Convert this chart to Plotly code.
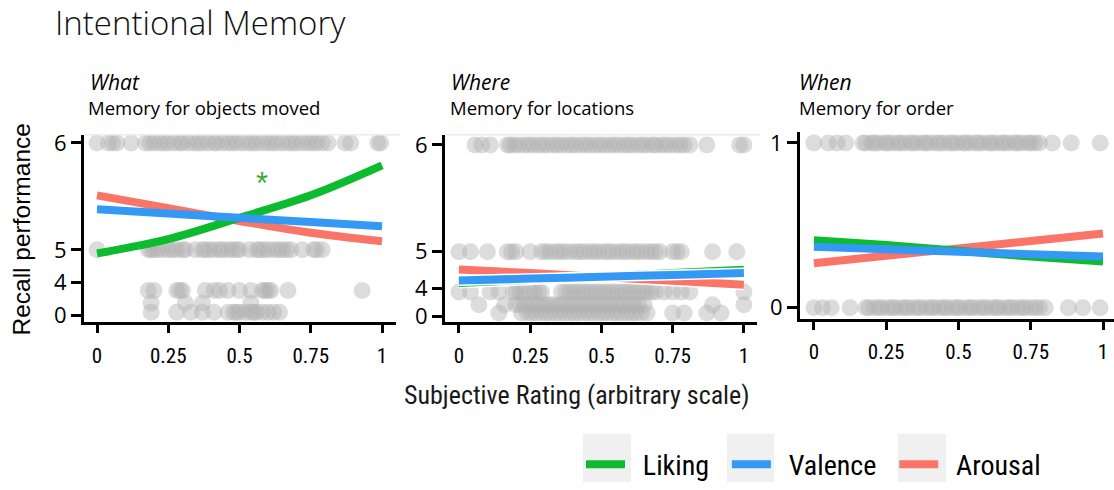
import numpy as np
import plotly.graph_objects as go

W, H = 1114, 490

# ---------------- values ----------------
RATING = [0, 0.25, 0.5, 0.75, 1]

# fitted recall curves (recall units) sampled at RATING
WHAT_LIKING = [4.89, 5.10, 5.30, 5.51, 5.79]
WHAT_VALENCE = [5.38, 5.34, 5.30, 5.26, 5.22]
WHAT_AROUSAL = [5.51, 5.39, 5.27, 5.16, 5.08]

WHERE_LIKING = [4.15, 4.24, 4.33, 4.42, 4.51]
WHERE_VALENCE = [4.22, 4.27, 4.32, 4.37, 4.42]
WHERE_AROUSAL = [4.52, 4.42, 4.31, 4.21, 4.10]

WHEN_LIKING = [0.41, 0.38, 0.345, 0.31, 0.28]
WHEN_VALENCE = [0.37, 0.355, 0.34, 0.325, 0.31]
WHEN_AROUSAL = [0.27, 0.315, 0.36, 0.405, 0.45]

# individual trials: subjective rating of each trial, grouped by recall level
WHAT_LEVELS = [6, 5, 3, 1.5, 0.4]
WHAT_AT_6 = [0.0, 0.04, 0.055, 0.07, 0.12, 0.17, 0.185, 0.2, 0.22, 0.235, 0.25, 0.27,
             0.29, 0.3, 0.32, 0.34, 0.355, 0.37, 0.39, 0.41, 0.42, 0.44, 0.46, 0.475,
             0.49, 0.51, 0.53, 0.545, 0.56, 0.58, 0.6, 0.615, 0.63, 0.65, 0.67, 0.685,
             0.7, 0.72, 0.74, 0.755, 0.77, 0.79, 0.81, 0.87, 0.89, 0.985, 0.995]
WHAT_AT_5 = [0.0, 0.18, 0.19, 0.2, 0.215, 0.23, 0.25, 0.265, 0.28, 0.3, 0.31, 0.345,
             0.37, 0.38, 0.395, 0.41, 0.43, 0.44, 0.46, 0.475, 0.49, 0.5, 0.535, 0.56,
             0.57, 0.585, 0.6, 0.62, 0.635, 0.65, 0.665, 0.68, 0.72, 0.76, 0.77, 0.79]
WHAT_AT_3 = [0.18, 0.2, 0.28, 0.29, 0.3, 0.38, 0.41, 0.43, 0.46, 0.5, 0.54, 0.58,
             0.59, 0.6, 0.61, 0.67, 0.93]
WHAT_AT_1_5 = [0.19, 0.31, 0.37, 0.54]
WHAT_AT_0_4 = [0.19, 0.28, 0.33, 0.37, 0.41, 0.46, 0.48, 0.49, 0.5, 0.52, 0.54, 0.55,
               0.56, 0.58, 0.6, 0.62, 0.64]

WHERE_LEVELS = [6, 5, 3.5, 1.7, 0.5]
WHERE_AT_6 = [0.056, 0.08, 0.11, 0.17, 0.18, 0.195, 0.21, 0.23, 0.245, 0.26, 0.28, 0.295,
              0.31, 0.33, 0.345, 0.36, 0.38, 0.395, 0.41, 0.43, 0.445, 0.46, 0.48, 0.495,
              0.51, 0.53, 0.545, 0.56, 0.58, 0.595, 0.61, 0.63, 0.645, 0.66, 0.68, 0.69,
              0.71, 0.725, 0.74, 0.76, 0.775, 0.79, 0.81, 0.87, 0.985, 1.0]
WHERE_AT_5 = [0.0, 0.04, 0.1, 0.17, 0.185, 0.2, 0.25, 0.29, 0.305, 0.32, 0.34, 0.355,
              0.37, 0.39, 0.41, 0.425, 0.44, 0.46, 0.475, 0.49, 0.51, 0.525, 0.54, 0.56,
              0.575, 0.59, 0.61, 0.625, 0.64, 0.66, 0.675, 0.69, 0.705, 0.75, 0.765,
              0.78, 0.89, 0.975]
WHERE_AT_3_5 = [0.0, 0.04, 0.11, 0.14, 0.19, 0.2, 0.215, 0.23, 0.25, 0.265, 0.28, 0.29,
                0.36, 0.375, 0.39, 0.405, 0.42, 0.435, 0.45, 0.465, 0.48, 0.495, 0.51,
                0.525, 0.54, 0.555, 0.57, 0.585, 0.6, 0.615, 0.63, 0.645, 0.66, 0.675,
                0.69, 0.72, 0.75, 0.78, 0.81, 1.0]
WHERE_AT_1_7 = [0.07, 0.16, 0.2, 0.215, 0.23, 0.25, 0.265, 0.28, 0.3, 0.315, 0.33, 0.35,
                0.365, 0.38, 0.4, 0.415, 0.43, 0.45, 0.465, 0.48, 0.5, 0.515, 0.53, 0.55,
                0.565, 0.58, 0.6, 0.615, 0.63, 0.65, 0.89, 1.0]
WHERE_AT_0_5 = [0.14, 0.22, 0.24, 0.255, 0.27, 0.29, 0.305, 0.32, 0.34, 0.355, 0.37,
                0.39, 0.405, 0.42, 0.44, 0.455, 0.47, 0.49, 0.505, 0.52, 0.54, 0.555,
                0.57, 0.59, 0.605, 0.62, 0.64, 0.66, 0.75, 0.79, 0.87, 0.92]

WHEN_LEVELS = [1, 0]
WHEN_AT_1 = [0.0, 0.05, 0.08, 0.11, 0.17, 0.18, 0.2, 0.21, 0.225, 0.245, 0.255, 0.27,
             0.29, 0.3, 0.315, 0.335, 0.345, 0.36, 0.38, 0.39, 0.405, 0.425, 0.435, 0.45,
             0.47, 0.48, 0.495, 0.515, 0.525, 0.54, 0.56, 0.57, 0.585, 0.605, 0.615,
             0.63, 0.65, 0.66, 0.675, 0.695, 0.705, 0.72, 0.74, 0.75, 0.765, 0.78,
             0.825, 0.89, 0.99]
WHEN_AT_0 = [0.0, 0.03, 0.06, 0.125, 0.18, 0.19, 0.21, 0.225, 0.235, 0.255, 0.27, 0.28,
             0.3, 0.315, 0.325, 0.345, 0.36, 0.37, 0.39, 0.405, 0.415, 0.435, 0.45, 0.46,
             0.48, 0.495, 0.505, 0.525, 0.54, 0.55, 0.57, 0.585, 0.595, 0.615, 0.63,
             0.64, 0.66, 0.675, 0.685, 0.705, 0.72, 0.73, 0.75, 0.765, 0.78, 0.8,
             0.88, 0.93, 0.99]

X_TICKS = [0, 0.25, 0.5, 0.75, 1]
X_TICK_TEXT = ["0", "0.25", "0.5", "0.75", "1"]

# recall axis is drawn on a stretched scale: tick value -> axis position
WHAT_TICKS = [0, 4, 5, 6]
WHAT_TICK_POS = [0, 34.5, 68, 178.5]
WHERE_TICKS = [0, 4, 5, 6]
WHERE_TICK_POS = [0, 29, 67, 177.5]
WHEN_TICKS = [0, 1]
WHEN_TICK_POS = [0, 170.3]

SERIES_NAMES = ["Liking", "Valence", "Arousal"]
COLORS = {"Liking": "#0cbc2e", "Valence": "#3399f5", "Arousal": "#fa7468"}

SANS = "Liberation Sans, Arial, sans-serif"
OPEN = "Open Sans, Liberation Sans, sans-serif"
NARROW = "Liberation Sans Narrow, Roboto Condensed, Liberation Sans, sans-serif"
NBSP = "\u00a0"

# legend entries: label padding keeps the key text clear of the grey key box
LEGEND_LABELS = {
    "Liking": NBSP * 2 + "Liking" + NBSP * 2,
    "Valence": NBSP * 2 + "Valence" + NBSP * 2,
    "Arousal": NBSP * 2 + "Arousal",
}


def warp(values, ticks, pos):
    return np.interp(np.asarray(values, dtype=float), ticks, pos)


def px_x(p):
    return p / W


def px_y(p):
    return 1 - p / H


fig = go.Figure()

panels = [
    dict(xa="x", ya="y", ticks=WHAT_TICKS, pos=WHAT_TICK_POS,
         levels=WHAT_LEVELS,
         rows=[WHAT_AT_6, WHAT_AT_5, WHAT_AT_3, WHAT_AT_1_5, WHAT_AT_0_4],
         curves={"Liking": WHAT_LIKING, "Valence": WHAT_VALENCE, "Arousal": WHAT_AROUSAL},
         halo=False),
    dict(xa="x2", ya="y2", ticks=WHERE_TICKS, pos=WHERE_TICK_POS,
         levels=WHERE_LEVELS,
         rows=[WHERE_AT_6, WHERE_AT_5, WHERE_AT_3_5, WHERE_AT_1_7, WHERE_AT_0_5],
         curves={"Liking": WHERE_LIKING, "Valence": WHERE_VALENCE, "Arousal": WHERE_AROUSAL},
         halo=True),
    dict(xa="x3", ya="y3", ticks=WHEN_TICKS, pos=WHEN_TICK_POS,
         levels=WHEN_LEVELS,
         rows=[WHEN_AT_1, WHEN_AT_0],
         curves={"Liking": WHEN_LIKING, "Valence": WHEN_VALENCE, "Arousal": WHEN_AROUSAL},
         halo=False),
]

draw_order = ["Arousal", "Liking", "Valence"]
legend_rank = {"Liking": 1, "Valence": 2, "Arousal": 3}

for i, p in enumerate(panels):
    # trial dots
    xs, ys = [], []
    for level, row in zip(p["levels"], p["rows"]):
        xs += list(row)
        ys += [level] * len(row)
    fig.add_trace(go.Scatter(
        x=xs, y=warp(ys, p["ticks"], p["pos"]), mode="markers",
        marker=dict(size=17, color="rgba(178,178,178,0.45)", line=dict(width=0)),
        xaxis=p["xa"], yaxis=p["ya"], showlegend=False, hoverinfo="skip"))
    # fitted curves
    for name in draw_order:
        yv = warp(p["curves"][name], p["ticks"], p["pos"])
        if p["halo"]:
            fig.add_trace(go.Scatter(
                x=RATING, y=yv, mode="lines", line=dict(color="white", width=11),
                xaxis=p["xa"], yaxis=p["ya"], showlegend=False, hoverinfo="skip"))
        fig.add_trace(go.Scatter(
            x=RATING, y=yv, mode="lines", name=LEGEND_LABELS[name],
            line=dict(color=COLORS[name], width=8, shape="spline", smoothing=1.0),
            xaxis=p["xa"], yaxis=p["ya"], legendgroup=name,
            legendrank=legend_rank[name], showlegend=(i == 0)))

# axes geometry (pixels of the 1114x490 canvas)
x_domains = [(84, 396), (445, 757), (800, 1114)]
x_ranges = [(-0.0456, 1.049), (-0.049, 1.046), (-0.048, 1.038)]
y_domains = [(131, 325), (131, 325), (128, 321)]
y_ranges = [(-7, 187), (-6, 188), (-11.2, 181.8)]

axis_common = dict(showline=True, linecolor="black", linewidth=3, ticks="outside",
                   tickcolor="black", tickwidth=3, showgrid=False, zeroline=False,
                   fixedrange=True)

layout = dict(width=W, height=H, margin=dict(l=0, r=0, t=0, b=0),
              paper_bgcolor="white", plot_bgcolor="white", showlegend=True)
for i, p in enumerate(panels):
    sfx = "" if i == 0 else str(i + 1)
    layout["xaxis" + sfx] = dict(
        axis_common, domain=[px_x(x_domains[i][0]), px_x(x_domains[i][1])],
        range=list(x_ranges[i]), tickvals=X_TICKS, ticktext=X_TICK_TEXT, ticklen=8,
        ticklabelstandoff=4,
        tickfont=dict(family=NARROW, size=21, color="black"),
        anchor="y" + sfx)
    layout["yaxis" + sfx] = dict(
        axis_common, domain=[px_y(y_domains[i][1]), px_y(y_domains[i][0])],
        range=list(y_ranges[i]), tickvals=list(p["pos"]),
        ticktext=[str(t) for t in p["ticks"]], ticklen=10,
        tickfont=dict(family=OPEN, size=22, color="black"),
        anchor="x" + sfx)

fig.update_layout(**layout)

annotations = [
    dict(text="Intentional Memory", x=px_x(53), y=1, xanchor="left", yanchor="top",
         yshift=10, font=dict(family=OPEN, size=33, weight=300, color="#111111")),
    dict(text="What", x=px_x(88), y=px_y(77), xanchor="left", yanchor="middle",
         font=dict(family=OPEN, size=21, style="italic", color="black")),
    dict(text="Memory for objects moved", x=px_x(86), y=px_y(103), xanchor="left",
         yanchor="middle", font=dict(family=OPEN, size=18.5, color="black")),
    dict(text="Where", x=px_x(449), y=px_y(77), xanchor="left", yanchor="middle",
         font=dict(family=OPEN, size=21, style="italic", color="black")),
    dict(text="Memory for locations", x=px_x(448), y=px_y(103), xanchor="left",
         yanchor="middle", font=dict(family=OPEN, size=18.5, color="black")),
    dict(text="When", x=px_x(797), y=px_y(77), xanchor="left", yanchor="middle",
         font=dict(family=OPEN, size=21, style="italic", color="black")),
    dict(text="Memory for order", x=px_x(797), y=px_y(103), xanchor="left",
         yanchor="middle", font=dict(family=OPEN, size=18.5, color="black")),
    dict(text="Recall performance", x=px_x(22), y=px_y(229), textangle=-90,
         xanchor="center", yanchor="middle",
         font=dict(family=SANS, size=24.5, color="black")),
    dict(text="Subjective Rating (arbitrary scale)", x=px_x(577), y=px_y(400),
         xanchor="center", yanchor="middle",
         font=dict(family=NARROW, size=26, color="#1a1a1a")),
    dict(text="*", x=0.58, y=float(warp([5.656], WHAT_TICKS, WHAT_TICK_POS)[0]),
         xref="x", yref="y", showarrow=False, yshift=-4,
         font=dict(family=SANS, size=31, color="#3aa935")),
]
for a in annotations:
    a.setdefault("xref", "paper")
    a.setdefault("yref", "paper")
    a["showarrow"] = False
fig.update_layout(annotations=annotations)

shapes = []
# faint top border of the first two panels
for (x0, x1) in [(84, 400), (445, 760)]:
    shapes.append(dict(type="line", xref="paper", yref="paper", x0=px_x(x0), x1=px_x(x1),
                       y0=px_y(131), y1=px_y(131), line=dict(color="#ececec", width=1.5)))
# grey key boxes behind legend symbols
for (x0, x1) in [(583, 631), (727, 774), (898, 946)]:
    shapes.append(dict(type="rect", xref="paper", yref="paper", x0=px_x(x0), x1=px_x(x1),
                       y0=0, y1=px_y(440), fillcolor="#f0f0f0", line=dict(width=0),
                       layer="below"))
fig.update_layout(shapes=shapes)

fig.update_layout(legend=dict(
    orientation="h", x=px_x(581), y=px_y(472), xanchor="left", yanchor="middle",
    font=dict(family=NARROW, size=28, color="black"), bgcolor="rgba(0,0,0,0)",
    borderwidth=0, traceorder="normal", itemwidth=39))

fig.write_html("out.html")
